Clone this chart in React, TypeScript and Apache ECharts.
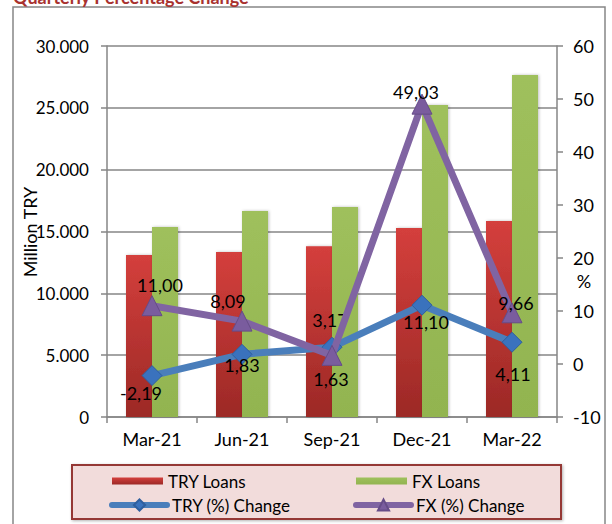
import React, { useEffect, useRef } from "react";
import * as echarts from "echarts";

const categories = ["Mar-21", "Jun-21", "Sep-21", "Dec-21", "Mar-22"];
const tryLoans = [13100, 13340, 13800, 15280, 15850];
const fxLoans = [15360, 16660, 16980, 25230, 27650];
const tryChange = [-2.19, 1.83, 3.17, 11.1, 4.11];
const fxChange = [11.0, 8.09, 1.63, 49.03, 9.66];

// label placement (pixel offsets from each marker), layout only
const tryLabelOffset = [[-11, 17], [0, 11], [-2, -27], [4, 17], [1, 32]];
const fxLabelOffset = [[8, -21], [-14, -20], [-1, 24], [-6, -12], [4, -10]];

const FONT = "Lato, 'Open Sans', sans-serif";

const fmtPct = (v: number) => v.toFixed(2).replace(".", ",");
const fmtThousands = (v: number) =>
  v === 0 ? "0" : String(v).replace(/\B(?=(\d{3})+(?!\d))/g, ".");

export default function App() {
  const ref = useRef<HTMLDivElement>(null);
  useEffect(() => {
    if (!ref.current) return;
    const chart = echarts.init(ref.current, undefined, { renderer: "svg" });
    const grayAxis = { lineStyle: { color: "#868686", width: 1.5 } };
    const legendText = { color: "#000", fontSize: 17, fontFamily: FONT, lineHeight: 18 };
    chart.setOption({
      animation: false,
      backgroundColor: "#ffffff",
      grid: { left: 107, right: 55, top: 46, bottom: 107, containLabel: false },
      xAxis: {
        type: "category",
        data: categories,
        axisLine: grayAxis,
        axisTick: { show: true, length: 6, lineStyle: { color: "#868686", width: 1.5 } },
        axisLabel: { color: "#000", fontSize: 18, fontFamily: FONT, margin: 13 },
      },
      yAxis: [
        {
          type: "value",
          min: 0,
          max: 30000,
          interval: 5000,
          axisLine: { show: true, ...grayAxis },
          axisTick: { show: true, length: 6, lineStyle: { color: "#868686", width: 1.5 } },
          splitLine: { show: true, lineStyle: { color: "#868686", width: 1.5 } },
          axisLabel: {
            color: "#000",
            fontSize: 17,
            fontFamily: FONT,
            margin: 18,
            formatter: (v: number) => fmtThousands(v),
          },
        },
        {
          type: "value",
          min: -10,
          max: 60,
          interval: 10,
          position: "right",
          axisLine: { show: true, ...grayAxis },
          axisTick: { show: true, length: 6, lineStyle: { color: "#868686", width: 1.5 } },
          splitLine: { show: false },
          axisLabel: { color: "#000", fontSize: 18, fontFamily: FONT, margin: 16 },
        },
      ],
      legend: [
        {
          data: [{ name: "TRY Loans", icon: "rect" }],
          left: 112,
          top: 472,
          padding: 0,
          itemWidth: 51,
          itemHeight: 7,
          textStyle: legendText,
        },
        {
          data: [{ name: "FX Loans", icon: "rect" }],
          left: 356,
          top: 472,
          padding: 0,
          itemWidth: 51,
          itemHeight: 7,
          textStyle: legendText,
        },
        {
          data: [{ name: "TRY (%) Change" }],
          left: 109,
          top: 496,
          padding: 0,
          itemWidth: 55,
          itemHeight: 14,
          lineStyle: { width: 6, cap: "round" },
          textStyle: legendText,
        },
        {
          data: [{ name: "FX (%) Change" }],
          left: 353,
          top: 496,
          padding: 0,
          itemWidth: 55,
          itemHeight: 14,
          lineStyle: { width: 6, cap: "round" },
          textStyle: legendText,
        },
      ],
      graphic: [
        {
          type: "rect",
          shape: { x: 13, y: 7, width: 592, height: 530 },
          style: { fill: "none", stroke: "#868686", lineWidth: 1.5 },
          silent: true,
          z: -10,
        },
        {
          type: "text",
          x: 13,
          y: 6,
          style: {
            text: "Quarterly Percentage Change",
            fill: "#a8322f",
            font: `bold 18px ${FONT}`,
            textVerticalAlign: "bottom",
          },
        },
        {
          type: "rect",
          shape: { x: 72, y: 465, width: 489, height: 54 },
          style: {
            fill: "#f2dcdb",
            stroke: "#953735",
            lineWidth: 2,
            shadowBlur: 3,
            shadowColor: "rgba(0,0,0,0.3)",
            shadowOffsetX: 1,
            shadowOffsetY: 1,
          },
          z: -1,
        },
        {
          type: "text",
          x: 30,
          y: 232,
          rotation: Math.PI / 2,
          style: {
            text: "Million TRY",
            fill: "#000",
            font: `18px ${FONT}`,
            textAlign: "center",
            textVerticalAlign: "middle",
          },
        },
        {
          type: "text",
          x: 584,
          y: 281,
          style: {
            text: "%",
            fill: "#000",
            font: `18px ${FONT}`,
            textAlign: "center",
            textVerticalAlign: "middle",
          },
        },
      ],
      series: [
        {
          name: "TRY Loans",
          type: "bar",
          data: tryLoans,
          barWidth: 26,
          barGap: "0%",
          itemStyle: {
            color: new echarts.graphic.LinearGradient(0, 0, 0, 1, [
              { offset: 0, color: "#d43f3c" },
              { offset: 1, color: "#9c2926" },
            ]),
            shadowBlur: 3,
            shadowColor: "rgba(0,0,0,0.25)",
            shadowOffsetX: 1,
          },
        },
        {
          name: "FX Loans",
          type: "bar",
          data: fxLoans,
          barWidth: 26,
          barGap: "0%",
          itemStyle: {
            color: new echarts.graphic.LinearGradient(0, 0, 0, 1, [
              { offset: 0, color: "#9fc05c" },
              { offset: 1, color: "#92b450" },
            ]),
            shadowBlur: 3,
            shadowColor: "rgba(0,0,0,0.25)",
            shadowOffsetX: 1,
          },
        },
        {
          name: "TRY (%) Change",
          type: "line",
          yAxisIndex: 1,
          data: tryChange.map((v, i) => ({
            value: v,
            label: { offset: tryLabelOffset[i] },
          })),
          lineStyle: { color: "#4a7ebb", width: 7, cap: "round" },
          itemStyle: { color: "#3a72bd", borderColor: "#2f5f9e", borderWidth: 1 },
          symbol: "diamond",
          symbolSize: 20,
          label: {
            show: true,
            position: "inside",
            color: "#000",
            fontSize: 18,
            fontFamily: FONT,
            formatter: (p: any) => fmtPct(p.value),
          },
          z: 5,
        },
        {
          name: "FX (%) Change",
          type: "line",
          yAxisIndex: 1,
          data: fxChange.map((v, i) => ({
            value: v,
            label: { offset: fxLabelOffset[i] },
          })),
          lineStyle: { color: "#8064a2", width: 7, cap: "round" },
          itemStyle: { color: "#7a5c9e", borderColor: "#664c88", borderWidth: 1 },
          symbol: "triangle",
          symbolSize: 20,
          label: {
            show: true,
            position: "inside",
            color: "#000",
            fontSize: 18,
            fontFamily: FONT,
            formatter: (p: any) => fmtPct(p.value),
          },
          z: 6,
        },
      ],
    });
    return () => chart.dispose();
  }, []);
  return (
    <div
      ref={ref}
      style={{ position: "fixed", left: 0, top: 0, width: 612, height: 524 }}
    />
  );
}
